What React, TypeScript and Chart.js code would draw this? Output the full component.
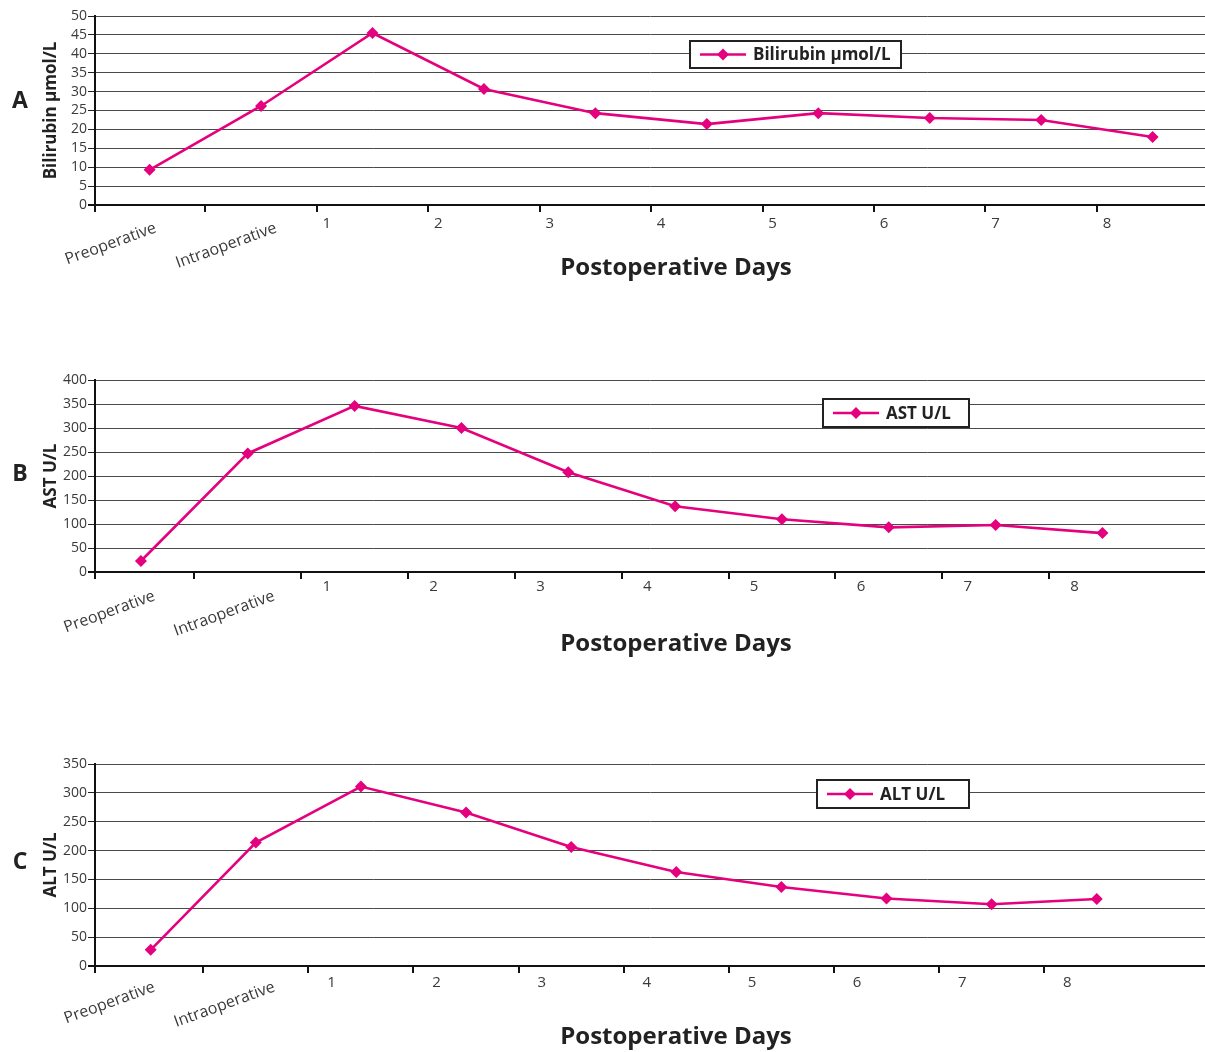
import React, { useEffect, useRef } from "react";
import { Chart, registerables } from "chart.js";
Chart.register(...registerables);

// ---------- data ----------
const categories = ["Preoperative", "Intraoperative", "1", "2", "3", "4", "5", "6", "7", "8"];
const bilirubin = [9.3, 26.2, 45.5, 30.7, 24.3, 21.4, 24.3, 23.0, 22.5, 18.0];
const ast = [23, 247, 346, 300, 208, 137, 110, 93, 98, 81];
const alt = [28, 214, 311, 266, 206, 163, 137, 117, 107, 116];
const seriesNames = ["Bilirubin μmol/L", "AST U/L", "ALT U/L"];
const axisTitles = ["Bilirubin μmol/L", "AST U/L", "ALT U/L"];
const panelLetters = ["A", "B", "C"];
const yMaxes = [50, 400, 350];
const ySteps = [5, 50, 50];
const xTitle = "Postoperative Days";

const MAGENTA = "#e5007d";
const FONT = '"Open Sans", "Noto Sans", sans-serif';

type PanelCfg = {
  top: number;
  height: number;
  areaTop: number;
  areaBottom: number;
  xMin: number;
  xMax: number;
  labelShift: number;
  rotShifts: number[];
  numDy: number;
  rotDy: number;
  legend: { x: number; y: number; w: number; h: number };
  letterY: number;
  titleY: number;
};

const panelCfgs: PanelCfg[] = [
  { top: 0, height: 300, areaTop: 16, areaBottom: 205, xMin: -0.49, xMax: 9.47, labelShift: 0.09, rotShifts: [0.03, 0.11], numDy: 19, rotDy: 15, legend: { x: 690, y: 41, w: 211, h: 27 }, letterY: 101, titleY: 268 },
  { top: 340, height: 330, areaTop: 40, areaBottom: 232, xMin: -0.43, xMax: 9.96, labelShift: 0.24, rotShifts: [0.1, 0.22], numDy: 15, rotDy: 16, legend: { x: 823, y: 59, w: 146, h: 28 }, letterY: 134, titleY: 304 },
  { top: 730, height: 322, areaTop: 34, areaBottom: 236, xMin: -0.53, xMax: 10.03, labelShift: 0.22, rotShifts: [0.01, 0.15], numDy: 17, rotDy: 13, legend: { x: 817, y: 50, w: 152, h: 28 }, letterY: 132, titleY: 307 },
];

const seriesList = [bilirubin, ast, alt];

function Panel({ idx }: { idx: number }) {
  const ref = useRef<HTMLCanvasElement>(null);
  const cfg = panelCfgs[idx];
  useEffect(() => {
    if (!ref.current) return;
    const values = seriesList[idx];
    const decor = {
      id: "decor",
      afterDraw(chart: any) {
        const { ctx, chartArea: a, scales } = chart;
        const x = scales.x;
        ctx.save();
        // x axis line
        ctx.strokeStyle = "#111";
        ctx.lineWidth = 2;
        ctx.beginPath();
        ctx.moveTo(a.left - 7, a.bottom);
        ctx.lineTo(a.right, a.bottom);
        ctx.moveTo(a.left, a.bottom);
        ctx.lineTo(a.left, a.bottom + 7);
        for (let i = 0; i < categories.length - 1; i++) {
          const px = Math.round(x.getPixelForValue(i + 0.5));
          ctx.moveTo(px, a.bottom);
          ctx.lineTo(px, a.bottom + 7);
        }
        ctx.stroke();
        // x labels
        ctx.fillStyle = "#3a3a3a";
        let rot = 0;
        categories.forEach((lab, i) => {
          if (isNaN(Number(lab))) {
            const px = x.getPixelForValue(i + cfg.rotShifts[rot++]);
            ctx.save();
            ctx.font = `16px ${FONT}`;
            ctx.translate(px, a.bottom + cfg.rotDy);
            ctx.rotate((-20 * Math.PI) / 180);
            ctx.textAlign = "right";
            ctx.textBaseline = "top";
            ctx.fillText(lab, 0, 0);
            ctx.restore();
          } else {
            const px = x.getPixelForValue(i - 0.5 + cfg.labelShift);
            ctx.font = `15px ${FONT}`;
            ctx.textAlign = "center";
            ctx.textBaseline = "middle";
            ctx.fillText(lab, px, a.bottom + cfg.numDy);
          }
        });
        // x title
        ctx.fillStyle = "#222";
        ctx.font = `bold 24px ${FONT}`;
        ctx.textAlign = "center";
        ctx.textBaseline = "middle";
        ctx.fillText(xTitle, 676, cfg.titleY);
        // panel letter
        ctx.font = `bold 23px ${FONT}`;
        ctx.fillText(panelLetters[idx], 20, cfg.letterY);
        // legend
        const L = cfg.legend;
        ctx.fillStyle = "#fff";
        ctx.fillRect(L.x, L.y, L.w, L.h);
        ctx.strokeStyle = "#222";
        ctx.lineWidth = 2;
        ctx.strokeRect(L.x, L.y, L.w, L.h);
        const cy = L.y + L.h / 2;
        ctx.strokeStyle = MAGENTA;
        ctx.lineWidth = 2.5;
        ctx.beginPath();
        ctx.moveTo(L.x + 10, cy);
        ctx.lineTo(L.x + 56, cy);
        ctx.stroke();
        ctx.fillStyle = MAGENTA;
        ctx.beginPath();
        ctx.moveTo(L.x + 33, cy - 6);
        ctx.lineTo(L.x + 39, cy);
        ctx.lineTo(L.x + 33, cy + 6);
        ctx.lineTo(L.x + 27, cy);
        ctx.closePath();
        ctx.fill();
        ctx.fillStyle = "#222";
        ctx.font = `bold 17px ${FONT}`;
        ctx.textAlign = "left";
        ctx.textBaseline = "middle";
        ctx.fillText(seriesNames[idx], L.x + 63, cy + 1);
        ctx.restore();
      },
    };
    const chart = new Chart(ref.current, {
      type: "line",
      data: {
        datasets: [
          {
            label: seriesNames[idx],
            data: values.map((v, i) => ({ x: i, y: v })),
            borderColor: MAGENTA,
            backgroundColor: MAGENTA,
            borderWidth: 2.6,
            pointStyle: "rectRot",
            pointRadius: 6,
            pointBorderWidth: 0,
            pointBackgroundColor: MAGENTA,
            tension: 0,
            clip: false as any,
          },
        ],
      },
      options: {
        animation: false,
        responsive: true,
        maintainAspectRatio: false,
        layout: {
          autoPadding: false,
          padding: { top: cfg.areaTop, bottom: cfg.height - cfg.areaBottom, left: 0, right: 0 },
        },
        plugins: { legend: { display: false }, tooltip: { enabled: false }, title: { display: false } },
        scales: {
          x: { type: "linear", display: false, min: cfg.xMin, max: cfg.xMax },
          y: {
            min: 0,
            max: yMaxes[idx],
            afterFit: (axis: any) => {
              axis.width = 95;
            },
            ticks: {
              stepSize: ySteps[idx],
              autoSkip: false,
              color: "#3a3a3a",
              font: { family: FONT, size: 14 },
              padding: 1,
            },
            grid: {
              color: "#4a4a4a",
              lineWidth: 1,
              drawTicks: true,
              tickLength: 7,
              tickColor: "#222",
            },
            border: { display: true, color: "#111", width: 2 },
            title: {
              display: true,
              text: axisTitles[idx],
              color: "#222",
              font: { family: FONT, size: 17, weight: "bold" },
              padding: { top: 41, bottom: 0 },
            },
          },
        },
      },
      plugins: [decor],
    });
    return () => chart.destroy();
  }, []);
  return (
    <div style={{ position: "absolute", left: 0, top: cfg.top, width: 1205, height: cfg.height }}>
      <canvas ref={ref} />
    </div>
  );
}

export default function App() {
  return (
    <div style={{ position: "absolute", left: 0, top: 0, width: 1205, height: 1052, background: "#fff" }}>
      {panelCfgs.map((_, i) => (
        <Panel key={i} idx={i} />
      ))}
    </div>
  );
}
